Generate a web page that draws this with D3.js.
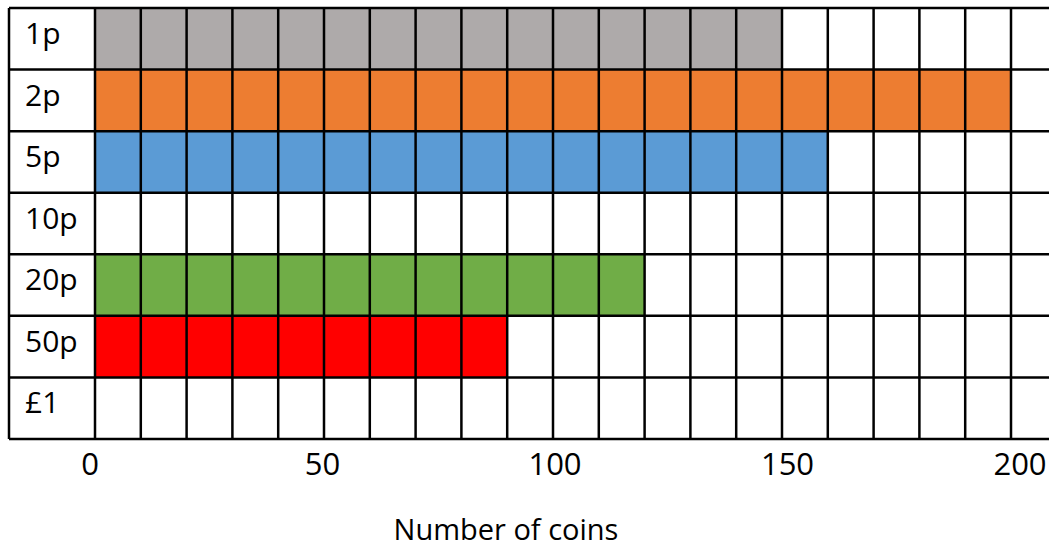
<!DOCTYPE html>
<html>
<head>
<meta charset="utf-8">
<script src="https://cdn.jsdelivr.net/npm/d3@7"></script>
<style>
  body { margin: 0; background: #fff; }
  text { font-family: "Open Sans", sans-serif; fill: #000; }
</style>
</head>
<body>
<script>
// data
var coins = ["1p", "2p", "5p", "10p", "20p", "50p", "£1"];
var counts = [150, 200, 160, 0, 120, 90, 0];
var colors = ["#aeaaaa", "#ed7d31", "#5b9bd5", "#ffffff", "#70ad47", "#ff0000", "#ffffff"];
var tickValues = [0, 50, 100, 150, 200];
var axisTitle = "Number of coins";

var totalWidth = 1049;
var totalHeight = 550;

var svg = d3.select("body").append("svg")
    .attr("width", totalWidth)
    .attr("height", totalHeight);

//scales
var x = d3.scaleLinear().domain([0, 200]).range([95, 1011]);
var y = d3.scaleBand().domain(coins).range([8, 439]).padding(0);
var labelX = d3.scaleLinear().domain([0, 200]).range([90, 1020]);

var rows = coins.map(function (c, i) {
    return {coin: c, count: counts[i], color: colors[i]};
});

//bars
svg.selectAll(".bar")
    .data(rows)
    .enter()
    .append("rect")
    .attr("class", "bar")
    .attr("x", x(0))
    .attr("y", d => y(d.coin))
    .attr("width", d => x(d.count) - x(0))
    .attr("height", y.bandwidth())
    .attr("fill", d => d.color);

//grid
var gridStep = d3.range(0, 211, 10);
var lineW = 2.5;
var left = 9;

svg.selectAll(".vline")
    .data(gridStep)
    .enter()
    .append("line")
    .attr("x1", d => x(d))
    .attr("x2", d => x(d))
    .attr("y1", y.range()[0])
    .attr("y2", y.range()[1])
    .attr("stroke", "#000")
    .attr("stroke-width", lineW);

var hEdges = coins.map(c => y(c)).concat([y.range()[1]]);
svg.selectAll(".hline")
    .data(hEdges)
    .enter()
    .append("line")
    .attr("x1", left)
    .attr("x2", x(210))
    .attr("y1", d => d)
    .attr("y2", d => d)
    .attr("stroke", "#000")
    .attr("stroke-width", lineW);

svg.append("line")
    .attr("x1", left).attr("x2", left)
    .attr("y1", y.range()[0]).attr("y2", y.range()[1])
    .attr("stroke", "#000")
    .attr("stroke-width", lineW);

//row labels
svg.selectAll(".rowlabel")
    .data(coins)
    .enter()
    .append("text")
    .attr("x", 25)
    .attr("y", d => y(d) + 36)
    .style("font-size", "30px")
    .text(d => d);

//tick labels
svg.selectAll(".tick")
    .data(tickValues)
    .enter()
    .append("text")
    .attr("x", d => labelX(d))
    .attr("y", 475)
    .attr("text-anchor", "middle")
    .style("font-size", "31px")
    .text(d => d);

svg.append("text")
    .attr("x", 506)
    .attr("y", 540)
    .attr("text-anchor", "middle")
    .style("font-size", "29px")
    .text(axisTitle);
</script>
</body>
</html>
